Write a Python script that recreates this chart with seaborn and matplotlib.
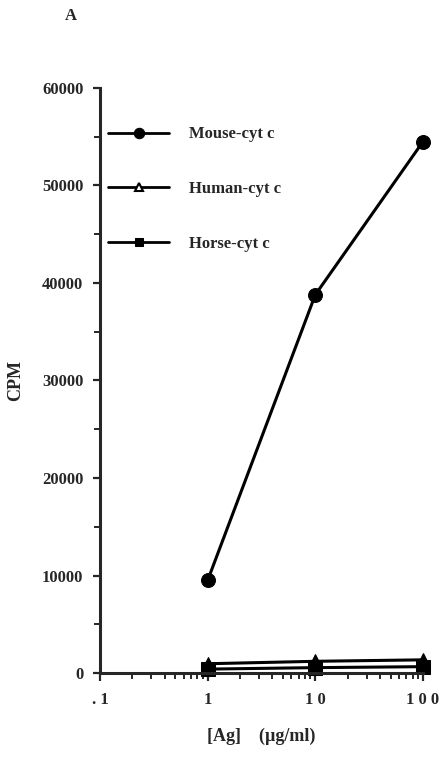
import matplotlib
matplotlib.use("Agg")
import matplotlib.pyplot as plt
import matplotlib.ticker as mticker
import seaborn as sns
import pandas as pd

conc = [1, 10, 100]
mouse = [9500, 38800, 54500]
human = [950, 1200, 1350]
horse = [400, 550, 650]
series_names = ["Mouse-cyt c", "Human-cyt c", "Horse-cyt c"]
x_ticks = [0.1, 1, 10, 100]
x_ticklabels = [". 1", "1", "1 0", "1 0 0"]
y_ticks = [0, 10000, 20000, 30000, 40000, 50000, 60000]

rows = []
for name, vals in zip(series_names, [mouse, human, horse]):
    for c, v in zip(conc, vals):
        rows.append({"conc": c, "cpm": v, "series": name})
df = pd.DataFrame(rows)

sns.set_style("ticks")
plt.rcParams["font.family"] = ["Liberation Serif", "DejaVu Serif"]
plt.rcParams["font.weight"] = "bold"

W, H = 443, 777
fig = plt.figure(figsize=(W / 100, H / 100), dpi=100)
ax = fig.add_axes([100 / W, 1 - 673 / H, 323 / W, (673 - 88) / H])

palette = {n: "black" for n in series_names}
markers = {"Mouse-cyt c": "o", "Human-cyt c": "^", "Horse-cyt c": "s"}
dashes = {n: "" for n in series_names}

sns.lineplot(data=df, x="conc", y="cpm", hue="series", style="series",
             palette=palette, markers=markers, dashes=dashes,
             hue_order=series_names, style_order=series_names,
             markersize=10, linewidth=2.2, markeredgecolor="black",
             legend=True, ax=ax, clip_on=False)

ax.set_xscale("log")
ax.set_xlim(0.1, 100)
ax.set_ylim(0, 60000)
ax.set_xticks(x_ticks)
ax.set_xticklabels(x_ticklabels, fontsize=12, fontweight="bold")
ax.xaxis.set_minor_locator(mticker.LogLocator(base=10, subs=range(2, 10), numticks=20))
ax.xaxis.set_minor_formatter(mticker.NullFormatter())
ax.set_yticks(y_ticks)
ax.set_yticklabels([str(t) for t in y_ticks], fontsize=12, fontweight="bold")
ax.yaxis.set_minor_locator(mticker.MultipleLocator(5000))
ax.tick_params(axis="y", which="major", length=5, width=1.6, direction="out", pad=7)
ax.tick_params(axis="y", which="minor", length=4, width=1.4, direction="out")
ax.tick_params(axis="x", which="major", length=6, width=1.6, direction="out", pad=8)
ax.tick_params(axis="x", which="minor", length=4, width=1.4, direction="out")
for s in ["top", "right"]:
    ax.spines[s].set_visible(False)
for s in ["left", "bottom"]:
    ax.spines[s].set_linewidth(2.2)

ax.set_xlabel("[Ag]    (\u00b5g/ml)", fontsize=13, fontweight="bold", labelpad=14)
ax.set_ylabel("CPM", fontsize=13, fontweight="bold", labelpad=13)

h, l = ax.get_legend_handles_labels()
msizes = {"Mouse-cyt c": 7.5, "Human-cyt c": 6, "Horse-cyt c": 6}
for hh, ll in zip(h, l):
    hh.set_linewidth(2)
    hh.set_markersize(msizes[ll])
h[1].set_markerfacecolor("white")
h[1].set_markeredgewidth(1.5)
leg = ax.legend(h, l, loc="upper left", bbox_to_anchor=(100 / W, 1 - 118 / H),
                bbox_transform=fig.transFigure, frameon=False, borderpad=0,
                handlelength=3.65, handletextpad=1.2, labelspacing=2.33,
                prop={"family": "Liberation Serif", "weight": "bold", "size": 12})

fig.text(71 / W, 1 - 16 / H, "A", fontsize=12, fontweight="bold", ha="center", va="center")

fig.savefig("out.png", dpi=100, facecolor="white")
